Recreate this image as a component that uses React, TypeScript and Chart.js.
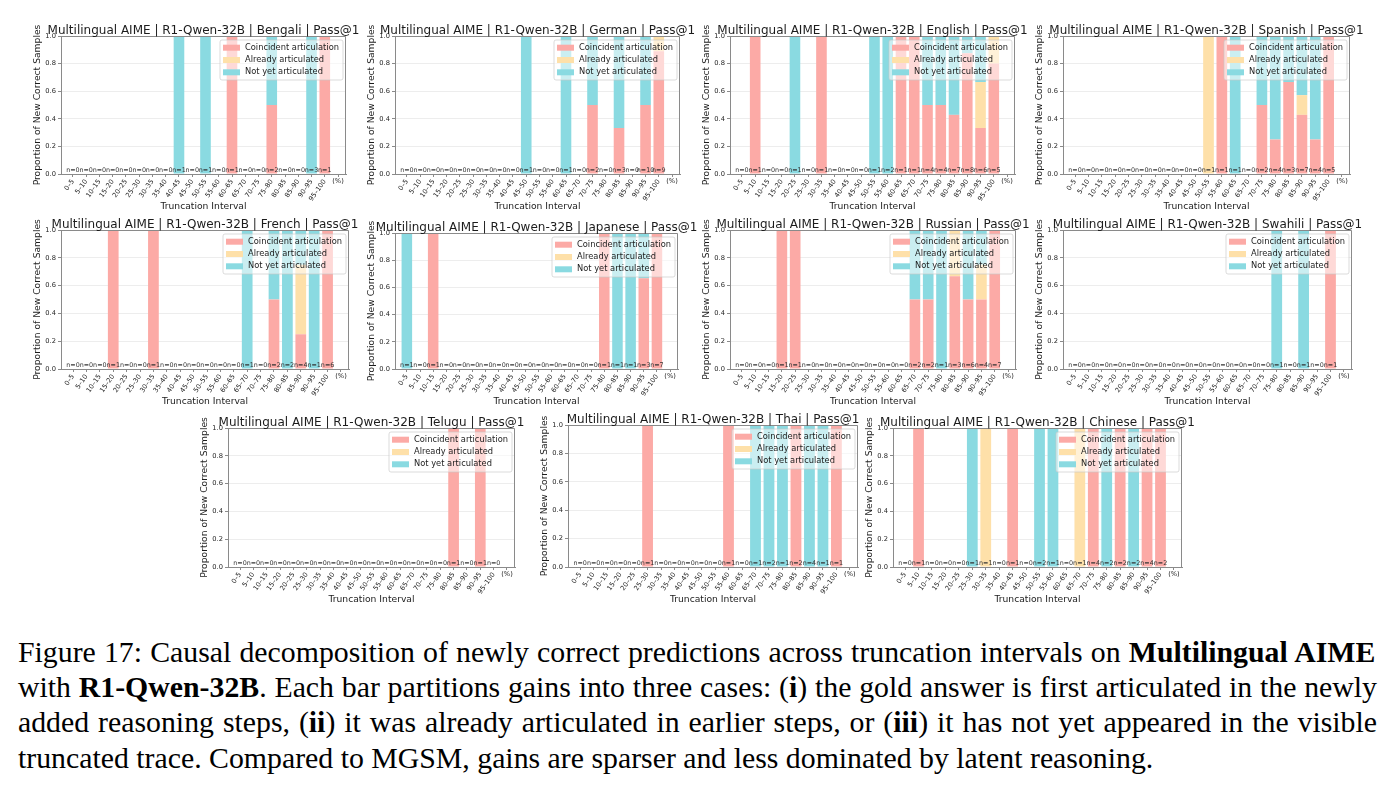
import React, { useEffect, useRef, useMemo } from 'react';
import { Chart, registerables } from 'chart.js';

Chart.register(...registerables);
Chart.defaults.font.family = '"DejaVu Sans", sans-serif';

// ---- Axis / legend text ----------------------------------------------------
const intervalLabels = [
  '0–5', '5–10', '10–15', '15–20', '20–25', '25–30', '30–35', '35–40', '40–45', '45–50',
  '50–55', '55–60', '60–65', '65–70', '70–75', '75–80', '80–85', '85–90', '90–95', '95–100',
];
const unitLabel = '(%)';
const seriesNames = ['Coincident articulation', 'Already articulated', 'Not yet articulated'];
const seriesColors = ['#FCAAA6', '#FEE0A9', '#8ADAE1'];
const titlePrefix = 'Multilingual AIME | R1-Qwen-32B | ';
const titleSuffix = ' | Pass@1';
const yTitle = 'Proportion of New Correct Samples';
const xTitle = 'Truncation Interval';

// ---- Newly correct sample counts per interval (coincident / already / not yet) ----
const bengaliCoincident = [0, 0, 0, 0, 0, 0, 0, 0, 0, 0, 0, 0, 1, 0, 0, 1, 0, 0, 0, 1];
const bengaliAlready = [0, 0, 0, 0, 0, 0, 0, 0, 0, 0, 0, 0, 0, 0, 0, 0, 0, 0, 0, 0];
const bengaliNotYet = [0, 0, 0, 0, 0, 0, 0, 0, 1, 0, 1, 0, 0, 0, 0, 1, 0, 0, 3, 0];

const germanCoincident = [0, 0, 0, 0, 0, 0, 0, 0, 0, 0, 0, 0, 0, 0, 1, 0, 1, 0, 5, 8];
const germanAlready = [0, 0, 0, 0, 0, 0, 0, 0, 0, 0, 0, 0, 0, 0, 0, 0, 0, 0, 0, 1];
const germanNotYet = [0, 0, 0, 0, 0, 0, 0, 0, 0, 1, 0, 0, 1, 0, 1, 0, 2, 0, 5, 0];

const englishCoincident = [0, 1, 0, 0, 0, 0, 1, 0, 0, 0, 0, 0, 1, 1, 2, 2, 3, 7, 2, 4];
const englishAlready = [0, 0, 0, 0, 0, 0, 0, 0, 0, 0, 0, 0, 0, 0, 0, 0, 0, 0, 2, 1];
const englishNotYet = [0, 0, 0, 0, 1, 0, 0, 0, 0, 0, 1, 2, 0, 0, 2, 2, 4, 1, 2, 0];

const spanishCoincident = [0, 0, 0, 0, 0, 0, 0, 0, 0, 0, 0, 1, 0, 0, 1, 1, 2, 3, 1, 5];
const spanishAlready = [0, 0, 0, 0, 0, 0, 0, 0, 0, 0, 1, 0, 0, 0, 0, 0, 0, 1, 0, 0];
const spanishNotYet = [0, 0, 0, 0, 0, 0, 0, 0, 0, 0, 0, 0, 1, 0, 1, 3, 1, 3, 3, 0];

const frenchCoincident = [0, 0, 0, 1, 0, 0, 1, 0, 0, 0, 0, 0, 0, 0, 0, 1, 0, 1, 0, 6];
const frenchAlready = [0, 0, 0, 0, 0, 0, 0, 0, 0, 0, 0, 0, 0, 0, 0, 0, 0, 2, 0, 0];
const frenchNotYet = [0, 0, 0, 0, 0, 0, 0, 0, 0, 0, 0, 0, 0, 1, 0, 1, 2, 1, 1, 0];

const japaneseCoincident = [0, 0, 1, 0, 0, 0, 0, 0, 0, 0, 0, 0, 0, 0, 0, 1, 0, 0, 2, 7];
const japaneseAlready = [0, 0, 0, 0, 0, 0, 0, 0, 0, 0, 0, 0, 0, 0, 0, 0, 0, 0, 0, 0];
const japaneseNotYet = [1, 0, 0, 0, 0, 0, 0, 0, 0, 0, 0, 0, 0, 0, 0, 0, 1, 1, 1, 0];

const russianCoincident = [0, 0, 0, 1, 1, 0, 0, 0, 0, 0, 0, 0, 0, 1, 1, 0, 2, 3, 2, 7];
const russianAlready = [0, 0, 0, 0, 0, 0, 0, 0, 0, 0, 0, 0, 0, 0, 0, 0, 1, 0, 1, 0];
const russianNotYet = [0, 0, 0, 0, 0, 0, 0, 0, 0, 0, 0, 0, 0, 1, 1, 1, 0, 3, 1, 0];

const swahiliCoincident = [0, 0, 0, 0, 0, 0, 0, 0, 0, 0, 0, 0, 0, 0, 0, 0, 0, 0, 0, 1];
const swahiliAlready = [0, 0, 0, 0, 0, 0, 0, 0, 0, 0, 0, 0, 0, 0, 0, 0, 0, 0, 0, 0];
const swahiliNotYet = [0, 0, 0, 0, 0, 0, 0, 0, 0, 0, 0, 0, 0, 0, 0, 1, 0, 1, 0, 0];

const teluguCoincident = [0, 0, 0, 0, 0, 0, 0, 0, 0, 0, 0, 0, 0, 0, 0, 0, 1, 0, 1, 0];
const teluguAlready = [0, 0, 0, 0, 0, 0, 0, 0, 0, 0, 0, 0, 0, 0, 0, 0, 0, 0, 0, 0];
const teluguNotYet = [0, 0, 0, 0, 0, 0, 0, 0, 0, 0, 0, 0, 0, 0, 0, 0, 0, 0, 0, 0];

const thaiCoincident = [0, 0, 0, 0, 0, 1, 0, 0, 0, 0, 0, 1, 0, 0, 0, 0, 2, 0, 0, 1];
const thaiAlready = [0, 0, 0, 0, 0, 0, 0, 0, 0, 0, 0, 0, 0, 0, 0, 0, 0, 0, 0, 0];
const thaiNotYet = [0, 0, 0, 0, 0, 0, 0, 0, 0, 0, 0, 0, 0, 1, 2, 1, 0, 4, 1, 0];

const chineseCoincident = [0, 1, 0, 0, 0, 0, 0, 0, 1, 0, 0, 0, 0, 0, 4, 0, 2, 0, 4, 2];
const chineseAlready = [0, 0, 0, 0, 0, 0, 1, 0, 0, 0, 0, 0, 0, 1, 0, 0, 0, 0, 0, 0];
const chineseNotYet = [0, 0, 0, 0, 0, 1, 0, 0, 0, 0, 2, 1, 0, 0, 0, 2, 0, 2, 0, 0];

const languages = ['Bengali', 'German', 'English', 'Spanish', 'French', 'Japanese', 'Russian', 'Swahili', 'Telugu', 'Thai', 'Chinese'];
const languageSeries = [
  [bengaliCoincident, bengaliAlready, bengaliNotYet],
  [germanCoincident, germanAlready, germanNotYet],
  [englishCoincident, englishAlready, englishNotYet],
  [spanishCoincident, spanishAlready, spanishNotYet],
  [frenchCoincident, frenchAlready, frenchNotYet],
  [japaneseCoincident, japaneseAlready, japaneseNotYet],
  [russianCoincident, russianAlready, russianNotYet],
  [swahiliCoincident, swahiliAlready, swahiliNotYet],
  [teluguCoincident, teluguAlready, teluguNotYet],
  [thaiCoincident, thaiAlready, thaiNotYet],
  [chineseCoincident, chineseAlready, chineseNotYet],
];

// ---- Page layout: plot-area rectangle of each panel (page pixels) ----
const panelBoxes = [
  { left: 61, top: 36, w: 285, h: 138 },
  { left: 395, top: 36, w: 285, h: 138 },
  { left: 730, top: 36, w: 285, h: 138 },
  { left: 1063, top: 36, w: 287, h: 138 },
  { left: 61, top: 230, w: 288, h: 139 },
  { left: 395, top: 233, w: 283, h: 136 },
  { left: 730, top: 230, w: 286, h: 139 },
  { left: 1063, top: 230, w: 289, h: 139 },
  { left: 228, top: 428, w: 287, h: 139 },
  { left: 568, top: 425, w: 290, h: 142 },
  { left: 893, top: 428, w: 289, h: 139 },
];

const PAD_TOP = 22;
const PAD_RIGHT = 32;
const Y_AXIS_W = 42;
const X_AXIS_H = 44;
const FONT = '"DejaVu Sans", sans-serif';
const TEXT = '#1c1c1c';
const SPINE = '#8a8a8a';

const panelDecor = {
  id: 'panelDecor',
  afterDatasetsDraw(chart: any, _args: any, opts: any) {
    const { ctx, chartArea: a } = chart;
    const xs = chart.scales.x;
    ctx.save();
    ctx.font = `6.4px ${FONT}`;
    ctx.fillStyle = '#333';
    ctx.textAlign = 'center';
    ctx.textBaseline = 'middle';
    opts.totals.forEach((n: number, i: number) => {
      ctx.fillText(`n=${n}`, xs.getPixelForValue(i), a.bottom - 4);
    });
    ctx.restore();
  },
  afterDraw(chart: any, _args: any, opts: any) {
    const { ctx, chartArea: a } = chart;
    const xs = chart.scales.x;
    const cx = (a.left + a.right) / 2;
    const cy = (a.top + a.bottom) / 2;
    ctx.save();

    // frame on top and right
    ctx.strokeStyle = SPINE;
    ctx.lineWidth = 1;
    ctx.beginPath();
    ctx.moveTo(Math.round(a.left) + 0.5, Math.round(a.top) + 0.5);
    ctx.lineTo(Math.round(a.right) - 0.5, Math.round(a.top) + 0.5);
    ctx.lineTo(Math.round(a.right) - 0.5, Math.round(a.bottom));
    ctx.stroke();

    // title
    ctx.fillStyle = TEXT;
    ctx.font = `12px ${FONT}`;
    ctx.textAlign = 'center';
    ctx.textBaseline = 'alphabetic';
    ctx.fillText(opts.title, cx, a.top - 2.5);

    // axis titles
    ctx.font = `9.2px ${FONT}`;
    ctx.textBaseline = 'middle';
    ctx.fillText(xTitle, cx, a.bottom + 33);
    ctx.save();
    ctx.translate(a.left - 23, cy);
    ctx.rotate(-Math.PI / 2);
    ctx.fillText(yTitle, 0, 0);
    ctx.restore();

    // unit marker after the last interval
    ctx.font = `6.7px ${FONT}`;
    ctx.fillText(unitLabel, xs.getPixelForValue(intervalLabels.length), a.bottom + 7);

    // legend (upper right, translucent frame)
    const bw = 123, bh = 40;
    const bx = a.right - 3 - bw, by = a.top + 4;
    ctx.beginPath();
    ctx.roundRect(bx, by, bw, bh, 2);
    ctx.fillStyle = 'rgba(255,255,255,0.55)';
    ctx.fill();
    ctx.strokeStyle = 'rgba(200,200,200,0.8)';
    ctx.lineWidth = 0.8;
    ctx.stroke();
    ctx.font = `8.3px ${FONT}`;
    ctx.textAlign = 'left';
    seriesNames.forEach((name, k) => {
      const ry = by + 7.7 + k * 12.3;
      ctx.fillStyle = seriesColors[k];
      ctx.fillRect(bx + 3, ry - 3, 17, 6);
      ctx.fillStyle = TEXT;
      ctx.fillText(name, bx + 25, ry);
    });
    ctx.restore();
  },
};

function Panel({ index }: { index: number }) {
  const ref = useRef<HTMLCanvasElement | null>(null);
  const box = panelBoxes[index];
  const width = box.w + Y_AXIS_W + PAD_RIGHT;
  const height = box.h + PAD_TOP + X_AXIS_H;

  useEffect(() => {
    if (!ref.current) return;
    const series = languageSeries[index];
    const totals = intervalLabels.map((_, i) => series[0][i] + series[1][i] + series[2][i]);
    const axisLabels = [...intervalLabels, ''];
    const chart = new Chart(ref.current, {
      type: 'bar',
      data: {
        datasets: series.map((counts, k) => ({
          label: seriesNames[k],
          data: counts.map((v, i) => ({ x: i, y: totals[i] ? v / totals[i] : 0 })),
          backgroundColor: seriesColors[k],
          borderWidth: 0,
          barPercentage: 0.8,
          categoryPercentage: 1,
        })),
      },
      options: {
        animation: false,
        responsive: false,
        devicePixelRatio: 1,
        layout: { padding: { left: 0, top: PAD_TOP, right: PAD_RIGHT, bottom: 0 } },
        plugins: {
          legend: { display: false },
          tooltip: { enabled: false },
          title: { display: false },
          panelDecor: { title: titlePrefix + languages[index] + titleSuffix, totals },
        } as any,
        scales: {
          x: {
            type: 'linear',
            stacked: true,
            offset: false,
            min: -0.9,
            max: 20.6,
            afterBuildTicks: (s: any) => {
              s.ticks = axisLabels.map((_, i) => ({ value: i }));
            },
            afterFit: (s: any) => {
              s.height = X_AXIS_H;
              s.paddingLeft = 0;
              s.paddingRight = 0;
            },
            ticks: {
              autoSkip: false,
              minRotation: 55,
              maxRotation: 55,
              padding: 1,
              color: TEXT,
              font: { size: 6.7, family: FONT },
              callback: (v: any) => axisLabels[v] ?? '',
            },
            grid: { drawOnChartArea: false, drawTicks: true, tickLength: 3, tickColor: SPINE, offset: false },
            border: { display: true, color: SPINE, width: 1 },
          } as any,
          y: {
            stacked: true,
            min: 0,
            max: 1,
            afterFit: (s: any) => {
              s.width = Y_AXIS_W;
            },
            ticks: {
              stepSize: 0.2,
              padding: 2,
              color: TEXT,
              font: { size: 6.7, family: FONT },
              callback: (v: any) => Number(v).toFixed(1),
            },
            grid: { color: 'rgba(0,0,0,0.07)', tickColor: SPINE, tickLength: 3 },
            border: { display: true, color: SPINE, width: 1 },
          },
        },
      },
      plugins: [panelDecor],
    });
    return () => chart.destroy();
  }, [index]);

  return (
    <canvas
      ref={ref}
      width={width}
      height={height}
      style={{ position: 'absolute', left: box.left - Y_AXIS_W, top: box.top - PAD_TOP, width, height }}
    />
  );
}

// ---- Caption ----
type Seg = { t: string; b?: boolean };
const captionLines: Seg[][] = [
  [
    { t: 'Figure 17: Causal decomposition of newly correct predictions across truncation intervals on ' },
    { t: 'Multilingual AIME', b: true },
  ],
  [
    { t: 'with ' },
    { t: 'R1-Qwen-32B', b: true },
    { t: '. Each bar partitions gains into three cases: (' },
    { t: 'i', b: true },
    { t: ') the gold answer is first articulated in the newly' },
  ],
  [
    { t: 'added reasoning steps, (' },
    { t: 'ii', b: true },
    { t: ') it was already articulated in earlier steps, or (' },
    { t: 'iii', b: true },
    { t: ') it has not yet appeared in the visible' },
  ],
  [{ t: 'truncated trace. Compared to MGSM, gains are sparser and less dominated by latent reasoning.' }],
];
const CAP_FONT = 29.8;
const CAP_LEFT = 18;
const CAP_WIDTH = 1359;
const CAP_TOP = 634;
const CAP_STEP = 35.2;

function Caption() {
  const spacings = useMemo(() => {
    const c = document.createElement('canvas').getContext('2d')!;
    return captionLines.map((line, li) => {
      if (li === captionLines.length - 1) return 0;
      let w = 0;
      let spaces = 0;
      line.forEach((s) => {
        c.font = `${s.b ? 'bold ' : ''}${CAP_FONT}px "Liberation Serif"`;
        w += c.measureText(s.t).width;
        spaces += (s.t.match(/ /g) || []).length;
      });
      return (CAP_WIDTH - w) / spaces;
    });
  }, []);
  return (
    <>
      {captionLines.map((line, li) => (
        <div
          key={li}
          style={{
            position: 'absolute',
            left: CAP_LEFT,
            top: CAP_TOP + li * CAP_STEP,
            whiteSpace: 'pre',
            fontFamily: '"Liberation Serif", serif',
            fontSize: CAP_FONT,
            lineHeight: '35px',
            color: '#000',
            wordSpacing: spacings[li],
          }}
        >
          {line.map((s, si) => (
            <span key={si} style={{ fontWeight: s.b ? 'bold' : 'normal' }}>
              {s.t}
            </span>
          ))}
        </div>
      ))}
    </>
  );
}

export default function App() {
  return (
    <div style={{ position: 'absolute', left: 0, top: 0, width: 1394, height: 793, background: '#fff', overflow: 'hidden' }}>
      {languages.map((_, i) => (
        <Panel key={i} index={i} />
      ))}
      <Caption />
    </div>
  );
}
